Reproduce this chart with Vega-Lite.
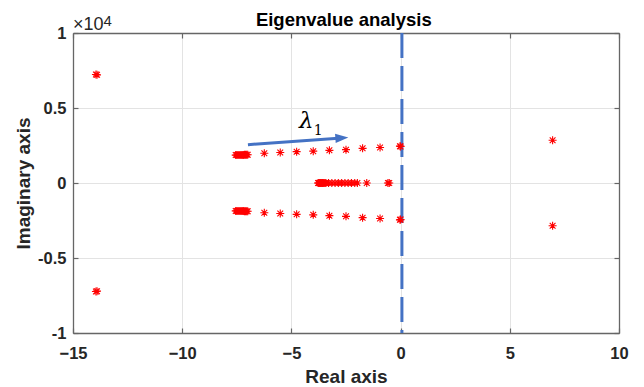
{
  "$schema": "https://vega.github.io/schema/vega-lite/v6.json",
  "width": 546,
  "height": 300,
  "autosize": "none",
  "padding": {"left": 73, "top": 33, "right": 25, "bottom": 54},
  "background": "white",
  "config": {
    "view": {"stroke": null},
    "axis": {
      "labelFont": "Liberation Sans", "labelFontSize": 16.5, "labelFontWeight": "bold", "labelColor": "#262626",
      "titleFont": "Liberation Sans", "titleFontSize": 19, "titleFontWeight": "bold", "titleColor": "#262626",
      "domainColor": "#666666", "domainWidth": 1.3, "tickColor": "#666666", "tickWidth": 1.2, "tickSize": -5,
      "gridColor": "#e3e3e3", "gridWidth": 1, "labelFlush": false, "labelOverlap": false, "labelBound": false
    }
  },
  "datasets": {
    "eig": [
      {"re": -13.95, "im": 7230}, {"re": -13.9, "im": 7210}, {"re": -13.95, "im": -7230}, {"re": -13.9, "im": -7210},
      {"re": 6.96, "im": 2850}, {"re": 6.96, "im": -2850},
      {"re": -7.55, "im": 1860}, {"re": -7.5, "im": 1862}, {"re": -7.45, "im": 1864}, {"re": -7.4, "im": 1866}, {"re": -7.35, "im": 1868}, {"re": -7.3, "im": 1870}, {"re": -7.25, "im": 1872}, {"re": -7.2, "im": 1874}, {"re": -7.15, "im": 1876}, {"re": -7.1, "im": 1878}, {"re": -7.05, "im": 1880}, {"re": -7.0, "im": 1882},
      {"re": -7.55, "im": -1860}, {"re": -7.5, "im": -1862}, {"re": -7.45, "im": -1864}, {"re": -7.4, "im": -1866}, {"re": -7.35, "im": -1868}, {"re": -7.3, "im": -1870}, {"re": -7.25, "im": -1872}, {"re": -7.2, "im": -1874}, {"re": -7.15, "im": -1876}, {"re": -7.1, "im": -1878}, {"re": -7.05, "im": -1880}, {"re": -7.0, "im": -1882},
      {"re": -6.24, "im": 1980}, {"re": -5.51, "im": 2033}, {"re": -4.76, "im": 2090}, {"re": -4.0, "im": 2123}, {"re": -3.26, "im": 2177}, {"re": -2.5, "im": 2223}, {"re": -1.74, "im": 2310}, {"re": -0.94, "im": 2367}, {"re": -0.03, "im": 2457}, {"re": 0.0, "im": 2440},
      {"re": -6.24, "im": -1980}, {"re": -5.51, "im": -2033}, {"re": -4.76, "im": -2090}, {"re": -4.0, "im": -2123}, {"re": -3.26, "im": -2177}, {"re": -2.5, "im": -2223}, {"re": -1.74, "im": -2310}, {"re": -0.94, "im": -2367}, {"re": -0.03, "im": -2457}, {"re": 0.0, "im": -2440},
      {"re": -3.78, "im": 0}, {"re": -3.75, "im": 0}, {"re": -3.72, "im": 0}, {"re": -3.69, "im": 0}, {"re": -3.66, "im": 0}, {"re": -3.63, "im": 0}, {"re": -3.6, "im": 0}, {"re": -3.57, "im": 0}, {"re": -3.54, "im": 0}, {"re": -3.5, "im": 0}, {"re": -3.46, "im": 0}, {"re": -3.42, "im": 0},
      {"re": -3.3, "im": 0}, {"re": -3.15, "im": 0}, {"re": -3.0, "im": 0}, {"re": -2.85, "im": 0}, {"re": -2.7, "im": 0}, {"re": -2.55, "im": 0}, {"re": -2.4, "im": 0}, {"re": -2.25, "im": 0}, {"re": -2.1, "im": 0}, {"re": -1.98, "im": 0},
      {"re": -1.55, "im": 0}, {"re": -0.58, "im": 0}, {"re": -0.52, "im": 0}
    ],
    "arrow": [
      {"re": -6.99, "im": 2553, "ord": 1},
      {"re": -2.69, "im": 3007, "ord": 2}
    ],
    "head": [
      {"re": -2.69, "im": 3007}
    ],
    "one": [{}]
  },
  "layer": [
    {
      "data": {"name": "eig"},
      "mark": {"type": "point", "opacity": 0},
      "encoding": {
        "x": {"field": "re", "type": "quantitative", "scale": {"domain": [-15, 10], "nice": false, "zero": false},
              "axis": {"orient": "bottom", "values": [-15, -10, -5, 0, 5, 10], "grid": true, "title": "Real axis", "labelPadding": 17, "titlePadding": 6}},
        "y": {"field": "im", "type": "quantitative", "scale": {"domain": [-10000, 10000], "nice": false, "zero": false},
              "axis": {"orient": "left", "values": [-10000, -5000, 0, 5000, 10000], "labelExpr": "datum.value / 10000", "grid": true, "title": "Imaginary axis", "labelPadding": 12, "titlePadding": 4}}
      }
    },
    {
      "data": {"name": "eig"},
      "mark": {"type": "point", "opacity": 0},
      "encoding": {
        "x": {"field": "re", "type": "quantitative", "scale": {"domain": [-15, 10], "nice": false, "zero": false},
              "axis": {"orient": "top", "values": [-15, -10, -5, 0, 5, 10], "grid": false, "labels": false, "title": null}},
        "y": {"field": "im", "type": "quantitative", "scale": {"domain": [-10000, 10000], "nice": false, "zero": false},
              "axis": {"orient": "right", "values": [-10000, -5000, 0, 5000, 10000], "grid": false, "labels": false, "title": null}}
      }
    },
    {
      "data": {"name": "one"},
      "mark": {"type": "rule", "color": "#4472C4", "strokeWidth": 3, "strokeDash": [25, 8]},
      "encoding": {
        "x": {"datum": 0.06, "type": "quantitative", "scale": {"domain": [-15, 10], "nice": false, "zero": false}, "axis": null}
      }
    },
    {
      "data": {"name": "eig"},
      "mark": {"type": "point", "shape": "M-1,0L1,0M0,-1L0,1M-0.72,-0.72L0.72,0.72M-0.72,0.72L0.72,-0.72", "filled": false, "color": "#FF0000", "strokeWidth": 1.1, "size": 64, "opacity": 1},
      "encoding": {
        "x": {"field": "re", "type": "quantitative", "scale": {"domain": [-15, 10], "nice": false, "zero": false}, "axis": null},
        "y": {"field": "im", "type": "quantitative", "scale": {"domain": [-10000, 10000], "nice": false, "zero": false}, "axis": null}
      }
    },
    {
      "data": {"name": "arrow"},
      "mark": {"type": "line", "color": "#4472C4", "strokeWidth": 3},
      "encoding": {
        "x": {"field": "re", "type": "quantitative", "scale": {"domain": [-15, 10], "nice": false, "zero": false}, "axis": null},
        "y": {"field": "im", "type": "quantitative", "scale": {"domain": [-10000, 10000], "nice": false, "zero": false}, "axis": null},
        "order": {"field": "ord"}
      }
    },
    {
      "data": {"name": "head"},
      "mark": {"type": "point", "shape": "M1,0L-1,-0.7L-1,0.7Z", "filled": true, "color": "#4472C4", "size": 169, "opacity": 1, "angle": -4.2},
      "encoding": {
        "x": {"field": "re", "type": "quantitative", "scale": {"domain": [-15, 10], "nice": false, "zero": false}, "axis": null},
        "y": {"field": "im", "type": "quantitative", "scale": {"domain": [-10000, 10000], "nice": false, "zero": false}, "axis": null}
      }
    },
    {
      "data": {"name": "one"},
      "mark": {"type": "text", "text": "Eigenvalue analysis", "font": "Liberation Sans", "fontSize": 18.5, "fontWeight": "bold", "color": "#000000", "align": "center", "baseline": "alphabetic"},
      "encoding": {
        "x": {"datum": -2.6, "type": "quantitative", "scale": {"domain": [-15, 10], "nice": false, "zero": false}, "axis": null},
        "y": {"datum": 10487, "type": "quantitative", "scale": {"domain": [-10000, 10000], "nice": false, "zero": false}, "axis": null}
      }
    },
    {
      "data": {"name": "one"},
      "mark": {"type": "text", "text": "λ", "font": "DejaVu Serif", "fontStyle": "italic", "fontSize": 23, "color": "#000000", "align": "center", "baseline": "alphabetic"},
      "encoding": {
        "x": {"datum": -4.32, "type": "quantitative", "scale": {"domain": [-15, 10], "nice": false, "zero": false}, "axis": null},
        "y": {"datum": 3687, "type": "quantitative", "scale": {"domain": [-10000, 10000], "nice": false, "zero": false}, "axis": null}
      }
    },
    {
      "data": {"name": "one"},
      "mark": {"type": "text", "text": "1", "font": "DejaVu Serif", "fontSize": 14, "color": "#000000", "align": "left", "baseline": "alphabetic"},
      "encoding": {
        "x": {"datum": -3.98, "type": "quantitative", "scale": {"domain": [-15, 10], "nice": false, "zero": false}, "axis": null},
        "y": {"datum": 3220, "type": "quantitative", "scale": {"domain": [-10000, 10000], "nice": false, "zero": false}, "axis": null}
      }
    },
    {
      "data": {"name": "one"},
      "mark": {"type": "text", "text": "×10", "font": "Liberation Sans", "fontSize": 18, "color": "#262626", "align": "left", "baseline": "alphabetic"},
      "encoding": {
        "x": {"datum": -15, "type": "quantitative", "scale": {"domain": [-15, 10], "nice": false, "zero": false}, "axis": null},
        "y": {"datum": 10173, "type": "quantitative", "scale": {"domain": [-10000, 10000], "nice": false, "zero": false}, "axis": null}
      }
    },
    {
      "data": {"name": "one"},
      "mark": {"type": "text", "text": "4", "font": "Liberation Sans", "fontSize": 15, "color": "#262626", "align": "left", "baseline": "alphabetic"},
      "encoding": {
        "x": {"datum": -13.6, "type": "quantitative", "scale": {"domain": [-15, 10], "nice": false, "zero": false}, "axis": null},
        "y": {"datum": 10487, "type": "quantitative", "scale": {"domain": [-10000, 10000], "nice": false, "zero": false}, "axis": null}
      }
    }
  ],
  "resolve": {"axis": {"x": "independent", "y": "independent"}}
}
